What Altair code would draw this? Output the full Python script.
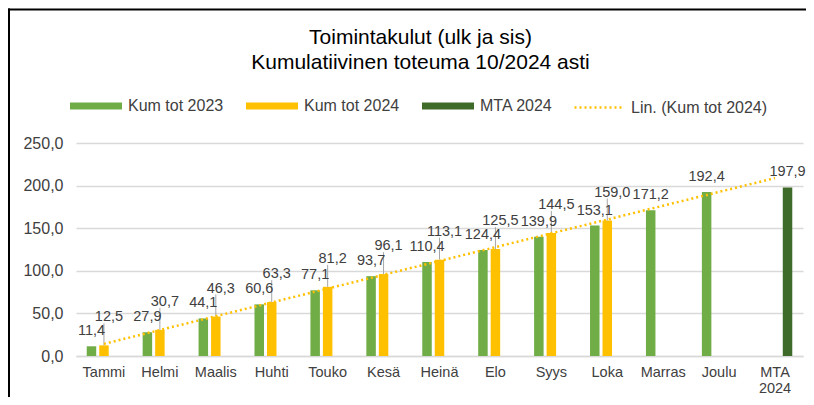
import json
import altair as alt
import pandas as pd

# ---- data ----
months = ["Tammi", "Helmi", "Maalis", "Huhti", "Touko", "Kesä", "Heinä",
          "Elo", "Syys", "Loka", "Marras", "Joulu", "MTA 2024"]
kum_tot_2023 = [11.4, 27.9, 44.1, 60.6, 77.1, 93.7, 110.4, 124.4, 139.9, 153.1, 171.2, 192.4]
kum_tot_2024 = [12.5, 30.7, 46.3, 63.3, 81.2, 96.1, 113.1, 125.5, 144.5, 159.0]
mta_2024 = [197.9]
series = ["Kum tot 2023", "Kum tot 2024", "MTA 2024"]
colors = ["#70AD47", "#FFC000", "#3E6A2A"]
trend_name = "Lin. (Kum tot 2024)"
y_ticks = [0, 50, 100, 150, 200, 250]
title_lines = ["Toimintakulut (ulk ja sis)", "Kumulatiivinen toteuma 10/2024 asti"]

FONT = "Liberation Sans"
TXT = "#404040"

rows = []
for i, v in enumerate(kum_tot_2023):
    rows.append({"cat": months[i], "series": series[0], "value": v, "idx": i + 1})
for i, v in enumerate(kum_tot_2024):
    rows.append({"cat": months[i], "series": series[1], "value": v, "idx": i + 1})
rows.append({"cat": months[12], "series": series[2], "value": mta_2024[0], "idx": 13})
df = pd.DataFrame(rows)

fmt = "replace(format(datum.value, '.1f'), '.', ',')"

x_enc = alt.X(
    "cat:N", sort=months,
    scale=alt.Scale(domain=months, paddingInner=0.33, paddingOuter=0.165),
    axis=alt.Axis(title=None, labelAngle=0, ticks=False, domainColor="#D9D9D9",
                  domainWidth=1.5, labelFontSize=14.5, labelFont=FONT, labelColor=TXT,
                  labelPadding=9, labelLineHeight=16,
                  labelExpr="datum.value == 'MTA 2024' ? ['MTA', '2024'] : datum.value"),
)
xoff = alt.XOffset("series:N", scale=alt.Scale(domain=series, paddingInner=0.24, paddingOuter=0.12))
y_enc = alt.Y(
    "value:Q",
    scale=alt.Scale(domain=[0, 250], nice=False, zero=True),
    axis=alt.Axis(title=None, values=y_ticks, labelExpr=fmt, ticks=False, domain=False,
                  gridColor="#D9D9D9", gridWidth=1.5, labelFontSize=16, labelFont=FONT,
                  labelColor=TXT, labelPadding=13),
)

base = alt.Chart(df).transform_calculate(label=fmt)

bars = base.mark_bar().encode(
    x=x_enc, xOffset=xoff, y=y_enc,
    color=alt.Color(
        "series:N",
        scale=alt.Scale(domain=series, range=colors),
        legend=alt.Legend(
            orient="none", legendX=-6, legendY=-63, direction="horizontal", columns=3,
            title=None, symbolType="M-1,-0.135H1V0.135H-1Z", symbolSize=2704,
            symbolStrokeWidth=0, symbolOpacity=1, labelFontSize=16, labelFont=FONT,
            labelColor=TXT, labelOffset=6, columnPadding=22,
        ),
    ),
)

df24 = df[df["series"] == series[1]]
trend = (
    alt.Chart(df24)
    .transform_regression("idx", "value", extent=[1, 13])
    .transform_calculate(
        cat=f"{json.dumps(months, ensure_ascii=False)}[round(datum.idx) - 1]",
        trend=f"'{trend_name}'",
    )
    .mark_line(color="#FFC000", strokeWidth=2.5, strokeDash=[2, 3])
    .encode(
        x=x_enc, y=y_enc,
        strokeDash=alt.StrokeDash(
            "trend:N",
            scale=alt.Scale(domain=[trend_name], range=[[2, 3]]),
            legend=alt.Legend(
                orient="none", legendX=497, legendY=-61, direction="horizontal",
                title=None, symbolType="stroke", symbolSize=2304,
                symbolStrokeColor="#FFC000", symbolStrokeWidth=2.5, symbolDash=[2, 3],
                labelFontSize=16, labelFont=FONT, labelColor=TXT, labelOffset=7,
            ),
        ),
    )
)

labels_main = base.transform_filter(alt.datum.series != series[1]).mark_text(
    fontSize=14.5, font=FONT, color=TXT, dy=-11, baseline="alphabetic"
).encode(x=x_enc, xOffset=xoff, y=y_enc, text="label:N")

leaders = base.transform_filter(alt.datum.series == series[1]).mark_rule(
    color="#A6A6A6", strokeWidth=1, y2Offset=-22
).encode(x=x_enc, xOffset=xoff, y=y_enc, y2=alt.Y2("value:Q"))

labels_24 = base.transform_filter(alt.datum.series == series[1]).mark_text(
    fontSize=14.5, font=FONT, color=TXT, dx=5, dy=-24, baseline="alphabetic"
).encode(x=x_enc, xOffset=xoff, y=y_enc, text="label:N")

frame_src = pd.DataFrame({"f": [0]})
frame_top = alt.Chart(frame_src).mark_rule(color="#000000", strokeWidth=2).encode(
    x=alt.value(-68), x2=alt.value(800), y=alt.value(-133.5)
)
frame_left = alt.Chart(frame_src).mark_rule(color="#000000", strokeWidth=2).encode(
    x=alt.value(-67), y=alt.value(-134.5), y2=alt.value(320)
)

chart = (
    alt.layer(bars, leaders, trend, labels_main, labels_24, frame_top, frame_left)
    .properties(
        width=727, height=213,
        autosize=alt.AutoSizeParams(type="none"),
        padding={"left": 68, "top": 135, "right": 3, "bottom": 41},
        title=alt.TitleParams(
            text=title_lines, fontSize=21, font=FONT, fontWeight="normal",
            color="#000000", anchor="middle", frame="group", dx=-19, dy=65.5,
            offset=0, lineHeight=25,
        ),
    )
    .configure_view(strokeWidth=0)
)

chart.save("out.html", embed_options={"renderer": "svg", "actions": False})
